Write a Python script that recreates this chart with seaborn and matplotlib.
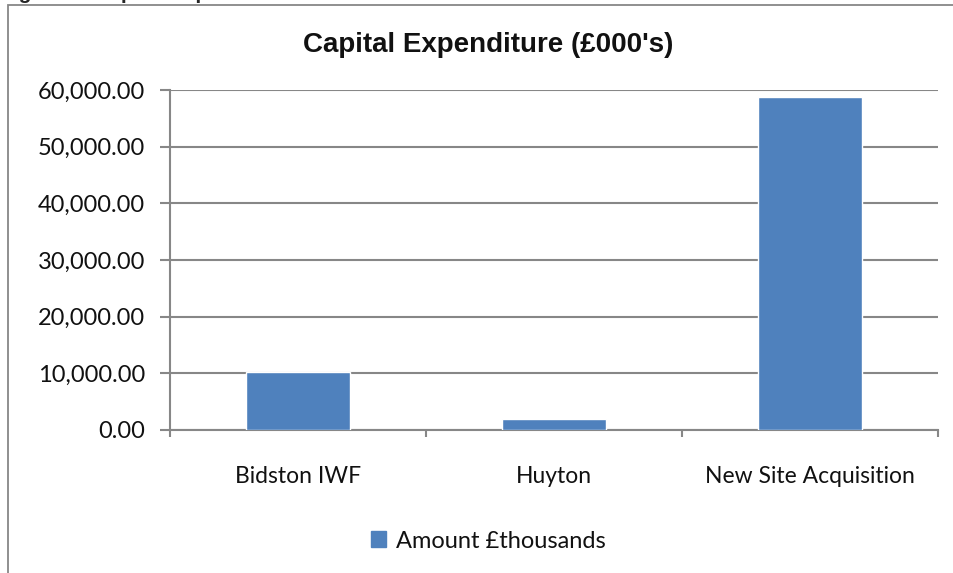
import matplotlib
matplotlib.use("Agg")
import matplotlib.pyplot as plt
import matplotlib.patches as mpatches
import matplotlib.ticker as mticker
import pandas as pd
import seaborn as sns

categories = ["Bidston IWF", "Huyton", "New Site Acquisition"]
amounts = [10150, 1950, 58800]
series_name = "Amount £thousands"
y_ticks = [0, 10000, 20000, 30000, 40000, 50000, 60000]

W, H = 954, 573
GRID = "#878787"
BAR = "#4F81BD"


def setup_plot_style():
    sns.set_theme(style="white")
    plt.rcParams["font.family"] = ["Lato", "DejaVu Sans"]


def main():
    setup_plot_style()
    df = pd.DataFrame({"category": categories, "amount": amounts})

    fig = plt.figure(figsize=(W / 100, H / 100), dpi=100)

    # outer chart frame (cut off on right and bottom)
    frame = mpatches.Rectangle((8 / W, -0.1), 1.2, 1.1 - 5 / H, transform=fig.transFigure,
                               fill=False, edgecolor=GRID, linewidth=1.3)
    fig.add_artist(frame)
    # heading above the chart, mostly clipped by the page edge
    fig.text(0.0, 1 + 1 / H, "Figure 3: Capital Expenditure", fontsize=15, fontweight="bold",
             family=["Liberation Sans"], va="baseline", ha="left")

    ax = fig.add_axes([170 / W, 1 - 430 / H, (938 - 170) / W, (430 - 90) / H])
    sns.barplot(data=df, x="category", y="amount", color=BAR, saturation=1, width=0.405,
                label=series_name, ax=ax, zorder=3)
    ax.set_xlim(-0.5, 2.5)
    ax.set_ylim(0, 60000)
    ax.set_yticks(y_ticks)
    ax.yaxis.set_major_formatter(mticker.FuncFormatter(lambda v, p: f"{v:,.2f}"))
    ax.grid(axis="y", color=GRID, linewidth=1.5, zorder=0)
    ax.set_axisbelow(True)
    for side in ["top", "right"]:
        ax.spines[side].set_visible(False)
    for side in ["left", "bottom"]:
        ax.spines[side].set_color(GRID)
        ax.spines[side].set_linewidth(1.5)
    ax.set_xlabel("")
    ax.set_ylabel("")
    ax.tick_params(axis="y", which="major", left=True, length=7, width=1.5, color=GRID,
                   labelsize=17, labelcolor="#111111", pad=11)
    ax.tick_params(axis="x", which="major", bottom=False, labelsize=16.5, labelcolor="#111111", pad=20)
    ax.set_xticks([-0.5, 0.5, 1.5, 2.5], minor=True)
    ax.tick_params(axis="x", which="minor", bottom=True, length=5, width=1.5, color=GRID)

    # chart title is centred on the whole chart frame, not on the plot area
    fig.text(488 / W, 1 - 45 / H, "Capital Expenditure (£000's)", fontsize=20, fontweight="bold",
             family=["Liberation Sans"], ha="center", va="center", color="#111111")

    leg = ax.get_legend()
    if leg is not None:
        leg.remove()
    handle = mpatches.Patch(color=BAR, label=series_name)
    fig.legend(handles=[handle], loc="center", bbox_to_anchor=(488 / W, 1 - 541 / H), frameon=False,
               fontsize=17, handlelength=0.65, handleheight=0.65, handletextpad=0.4, labelcolor="#111111")

    fig.savefig("out.png", dpi=100)
    plt.close(fig)


main()
